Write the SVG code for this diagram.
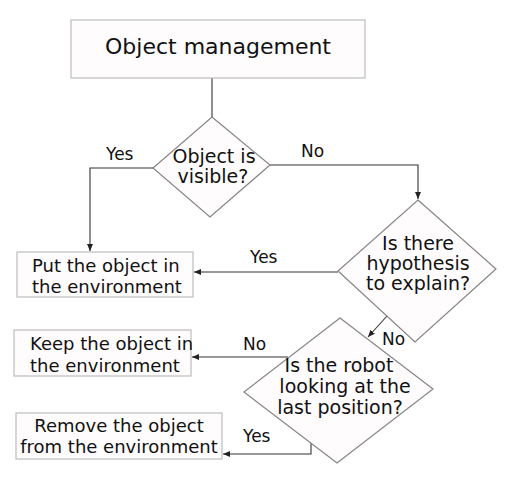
<svg xmlns="http://www.w3.org/2000/svg" width="515" height="480" viewBox="0 0 515 480">
<defs>
<marker id="arr" markerWidth="8" markerHeight="6" refX="7" refY="3" orient="auto" markerUnits="userSpaceOnUse">
<path d="M0,0 L7,3 L0,6 Z" fill="#222"/>
</marker>
<style>
.box{fill:#fffcfd;stroke:#bdbdbd;stroke-width:1.2}
.dia{fill:#fffcfd;stroke:#858585;stroke-width:1.2}
.t{font-family:"DejaVu Sans",sans-serif;font-size:18px;fill:#111}
.d{font-size:19px}
.c{text-anchor:middle}
.lbl{font-family:"DejaVu Sans",sans-serif;font-size:17px;fill:#111}
.ln{fill:none;stroke:#333;stroke-width:1.1}
</style>
</defs>
<rect width="515" height="480" fill="#fff"/>
<g id="connectors">
<path class="ln" d="M212,78 L212,117"/>
<path class="ln" d="M153,168 L90,168 L90,251" marker-end="url(#arr)"/>
<path class="ln" d="M270,165 L418,165 L418,199" marker-end="url(#arr)"/>
<path class="ln" d="M338,272 L194,272" marker-end="url(#arr)"/>
<path class="ln" d="M387,316 L368,337" marker-end="url(#arr)"/>
<path class="ln" d="M288,357 L192,357" marker-end="url(#arr)"/>
<path class="ln" d="M311,443 L311,454 L223,454" marker-end="url(#arr)"/>
<text class="lbl" x="106" y="160">Yes</text>
<text class="lbl" x="301" y="157">No</text>
<text class="lbl" x="250" y="263">Yes</text>
<text class="lbl" x="382" y="345">No</text>
<text class="lbl" x="243" y="350">No</text>
<text class="lbl" x="243" y="442">Yes</text>
</g>
<g id="n_title">
<rect class="box" x="71" y="20" width="294" height="58"/>
<text class="t c" x="218" y="54" style="font-size:22px">Object management</text>
</g>
<g id="n_visible">
<path class="dia" d="M212,117 L270,165 L210,217 L153,168 Z"/>
<text class="t d c" x="214" y="163">Object is</text>
<text class="t d c" x="213" y="183">visible?</text>
</g>
<g id="n_hypothesis">
<path class="dia" d="M418,200 L496,269 L415,342 L338,271 Z"/>
<text class="t d c" x="418" y="250">Is there</text>
<text class="t d c" x="418" y="270">hypothesis</text>
<text class="t d c" x="418" y="290">to explain?</text>
</g>
<g id="n_robot">
<path class="dia" d="M340,318 L433,389 L337,463 L244,392 Z"/>
<text class="t d c" x="339" y="372">Is the robot</text>
<text class="t d c" x="345" y="393">looking at the</text>
<text class="t d c" x="340" y="414">last position?</text>
</g>
<g id="n_put">
<rect class="box" x="17" y="252" width="176" height="45"/>
<text class="t" x="32" y="272">Put the object in</text>
<text class="t" x="32" y="293">the environment</text>
</g>
<g id="n_keep">
<rect class="box" x="14" y="330" width="177" height="46"/>
<text class="t" x="30" y="350">Keep the object in</text>
<text class="t" x="30" y="372">the environment</text>
</g>
<g id="n_remove">
<rect class="box" x="16" y="413" width="206" height="46"/>
<text class="t c" x="119" y="432">Remove the object</text>
<text class="t c" x="119" y="453">from the environment</text>
</g>
</svg>
